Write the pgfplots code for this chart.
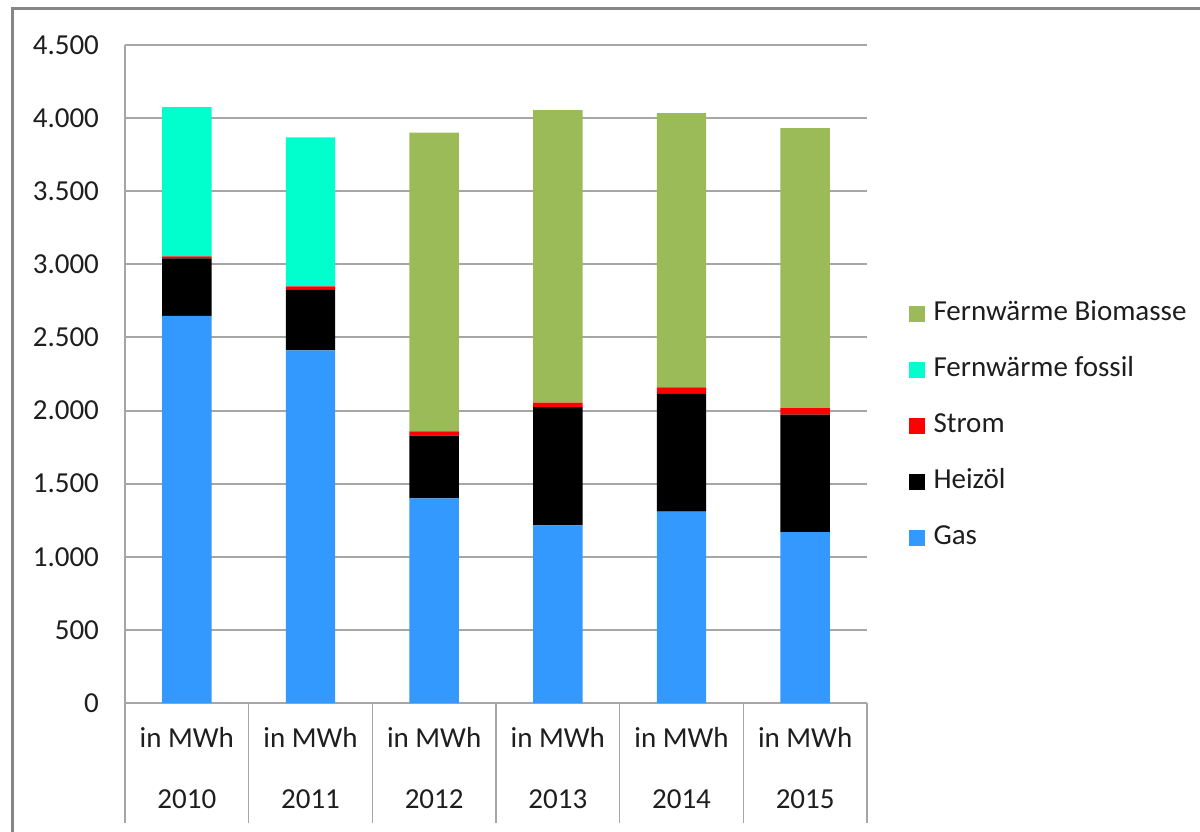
\documentclass[border=0pt]{standalone}
\usepackage{fontspec}
\setmainfont{Carlito}
\usepackage{pgfplots}
\pgfplotsset{compat=1.18}
\definecolor{cGas}{HTML}{3399FF}
\definecolor{cOel}{HTML}{000000}
\definecolor{cStrom}{HTML}{FF0000}
\definecolor{cFossil}{HTML}{00FFCC}
\definecolor{cBio}{HTML}{9BBB59}
\definecolor{cGrid}{HTML}{A6A6A6}
\definecolor{cFrame}{HTML}{868686}
\definecolor{cText}{HTML}{1E1E1E}
\begin{document}
\begin{tikzpicture}
\useasboundingbox (0,0) rectangle (600pt,415.5pt);
\draw[cFrame, line width=1.5pt] (6pt,-5pt) -- (6pt,411pt) -- (605pt,411pt);
\begin{axis}[
    at={(62.5pt,64pt)}, anchor=south west,
    scale only axis, width=371pt, height=329pt,
    ybar stacked, bar width=0.4,
    xmin=-0.5, xmax=5.5, ymin=0, ymax=4500,
    ytick={0,500,...,4500},
    xtick={0,...,5},
    xticklabels={in MWh\\[13.5pt]2010, in MWh\\[13.5pt]2011, in MWh\\[13.5pt]2012,
                 in MWh\\[13.5pt]2013, in MWh\\[13.5pt]2014, in MWh\\[13.5pt]2015},
    minor xtick={-0.5,0.5,...,5.5},
    axis lines=left,
    axis line style={cGrid, line width=1pt, -},
    ymajorgrids, grid style={cGrid, line width=1pt},
    major tick length=0pt,
    minor tick length=60pt,
    tick align=outside,
    minor x tick style={cGrid, line width=0.8pt},
    major tick style={draw=none},
    tick label style={font=\fontsize{14.5}{17}\selectfont, text=cText},
    xticklabel style={align=center, inner sep=0pt, yshift=-12pt},
    yticklabel style={xshift=-9.5pt},
    /pgf/number format/.cd, 1000 sep={.}, assume math mode=true,
    /pgfplots/.cd,
    reverse legend,
    legend cell align=left,
    legend style={draw=none, fill=none, inner sep=0pt, outer sep=0pt,
        at={(1.056,0.611)}, anchor=north west,
        row sep=15pt,
        font=\fontsize{14.5}{17}\selectfont, text=cText,
        nodes={inner sep=0pt, text height=10pt, text depth=3pt},
        /tikz/every odd column/.append style={column sep=4.5pt}},
    legend image code/.code={\fill[#1] (0pt,-4pt) rectangle (8pt,4pt);},
  ]
  % Gas
  \addplot [fill=cGas, draw=none] coordinates {
    (0,2648) (1,2411) (2,1400) (3,1215) (4,1309) (5,1168)};
  \addlegendentry{Gas}
  % Heizoel
  \addplot [fill=cOel, draw=none] coordinates {
    (0,393) (1,418) (2,429) (3,808) (4,805) (5,805)};
  \addlegendentry{Heizöl}
  % Strom
  \addplot [fill=cStrom, draw=none] coordinates {
    (0,14) (1,21) (2,29) (3,32) (4,45) (5,43)};
  \addlegendentry{Strom}
  % Fernwaerme fossil
  \addplot [fill=cFossil, draw=none] coordinates {
    (0,1020) (1,1019) (2,0) (3,0) (4,0) (5,0)};
  \addlegendentry{Fernwärme fossil}
  % Fernwaerme Biomasse
  \addplot [fill=cBio, draw=none] coordinates {
    (0,0) (1,0) (2,2042) (3,2000) (4,1875) (5,1916)};
  \addlegendentry{Fernwärme Biomasse}
\end{axis}
\end{tikzpicture}
\end{document}
